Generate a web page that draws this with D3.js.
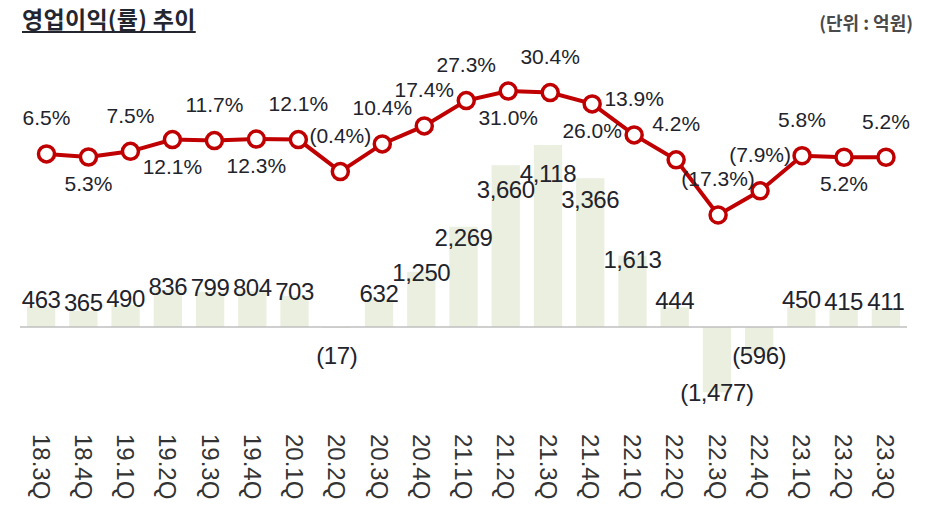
<!DOCTYPE html>
<html>
<head>
<meta charset="utf-8">
<script src="https://cdn.jsdelivr.net/npm/d3@7"></script>
<style>
  body { margin: 0; background: #fff; }
  svg { display: block; }
</style>
</head>
<body>
<div id="chart"></div>
<script>
// quarters
const quarters = ["18.3Q", "18.4Q", "19.1Q", "19.2Q", "19.3Q", "19.4Q", "20.1Q", "20.2Q", "20.3Q", "20.4Q",
  "21.1Q", "21.2Q", "21.3Q", "21.4Q", "22.1Q", "22.2Q", "22.3Q", "22.4Q", "23.1Q", "23.2Q", "23.3Q"];
// 영업이익 (억원)
const profit = [463, 365, 490, 836, 799, 804, 703, -17, 632, 1250, 2269, 3660, 4118, 3366, 1613, 444, -1477, -596, 450, 415, 411];
// 영업이익률 (%)
const margin = [6.5, 5.3, 7.5, 12.1, 11.7, 12.3, 12.1, -0.4, 10.4, 17.4, 27.3, 31.0, 30.4, 26.0, 13.9, 4.2, -17.3, -7.9, 5.8, 5.2, 5.2];
// label above (1) or below (-1) the point
const pctSide = [1, -1, 1, -1, 1, -1, 1, 1, 1, 1, 1, -1, 1, -1, 1, 1, 1, 1, 1, -1, 1];

const W = 942, H = 505;
const font = "'Liberation Sans', Arial, Helvetica, sans-serif";
const krFont = "'Noto Sans CJK KR', 'Noto Sans', sans-serif";

const svg = d3.select("#chart").append("svg")
  .attr("width", W)
  .attr("height", H);

// scales
const x = d3.scaleBand().domain(quarters).range([20, 907]).paddingInner(0.33).paddingOuter(0.165);
const xp = d3.scalePoint().domain(quarters).range([46.5, 886]);
const yBar = d3.scaleLinear().domain([-1500, 4500]).range([393.3, 128.1]);
const yLbl = d3.scaleLinear().domain([0, 4500]).range([324, 168.7]); // label placement for bar values
const yLine = d3.scaleLinear().domain([-20, 35]).range([221.9, 80.8]);

const fmt = v => v < 0 ? `(${d3.format(",")(-v)})` : d3.format(",")(v);
const fmtPct = v => v < 0 ? `(${(-v).toFixed(1)}%)` : `${v.toFixed(1)}%`;

// title
const title = svg.append("text")
  .attr("x", 22).attr("y", 28)
  .attr("font-family", krFont)
  .attr("font-weight", 700)
  .attr("font-size", 23)
  .attr("letter-spacing", 0.3)
  .attr("fill", "#24262f")
  .text("영업이익(률) 추이");
const tw = title.node().getComputedTextLength();
svg.append("rect")
  .attr("x", 22).attr("y", 31)
  .attr("width", tw).attr("height", 2)
  .attr("fill", "#24262f");

svg.append("text")
  .attr("x", 913).attr("y", 30)
  .attr("text-anchor", "end")
  .attr("font-family", krFont)
  .attr("font-weight", 700)
  .attr("font-size", 18)
  .attr("fill", "#4a4a4a")
  .text("(단위 : 억원)");

// bars
const data = quarters.map((q, i) => ({ q, v: profit[i], m: margin[i], side: pctSide[i] }));

svg.append("g")
  .selectAll("rect")
  .data(data)
  .join("rect")
  .attr("x", d => x(d.q))
  .attr("width", x.bandwidth())
  .attr("y", d => Math.min(yBar(d.v), yBar(0)))
  .attr("height", d => Math.abs(yBar(d.v) - yBar(0)))
  .attr("fill", "#ebefdf");

// zero line
svg.append("line")
  .attr("x1", 20).attr("x2", 907)
  .attr("y1", yBar(0)).attr("y2", yBar(0))
  .attr("stroke", "#bfbfbf")
  .attr("stroke-width", 1.5);

// bar labels
svg.append("g")
  .selectAll("text")
  .data(data)
  .join("text")
  .attr("x", d => x(d.q) + x.bandwidth() / 2)
  .attr("y", d => d.v >= 0 ? yLbl(d.v) : Math.max(yBar(d.v), yBar(0) + 28) + 8.5)
  .attr("text-anchor", "middle")
  .attr("font-family", font)
  .attr("font-size", 24)
  .attr("letter-spacing", -0.4)
  .attr("fill", "#22232b")
  .text(d => fmt(d.v));

// line
const line = d3.line().x(d => xp(d.q)).y(d => yLine(d.m));
svg.append("path")
  .datum(data)
  .attr("d", line)
  .attr("fill", "none")
  .attr("stroke", "#c00000")
  .attr("stroke-width", 4);

svg.append("g")
  .selectAll("circle")
  .data(data)
  .join("circle")
  .attr("cx", d => xp(d.q))
  .attr("cy", d => yLine(d.m))
  .attr("r", 8)
  .attr("fill", "#fff")
  .attr("stroke", "#c00000")
  .attr("stroke-width", 3.5);

// percent labels
svg.append("g")
  .selectAll("text")
  .data(data)
  .join("text")
  .attr("x", d => xp(d.q))
  .attr("y", d => yLine(d.m) + (d.side > 0 ? -28.5 : 34))
  .attr("text-anchor", "middle")
  .attr("font-family", font)
  .attr("font-size", 21)
  .attr("fill", "#22232b")
  .text(d => fmtPct(d.m));

// category labels, rotated
svg.append("g")
  .selectAll("text")
  .data(quarters)
  .join("text")
  .attr("transform", d => `translate(${x(d) + x.bandwidth() / 2},434) rotate(90)`)
  .attr("dy", "0.35em")
  .attr("font-family", font)
  .attr("font-size", 24)
  .attr("fill", "#333")
  .text(d => d);
</script>
</body>
</html>
